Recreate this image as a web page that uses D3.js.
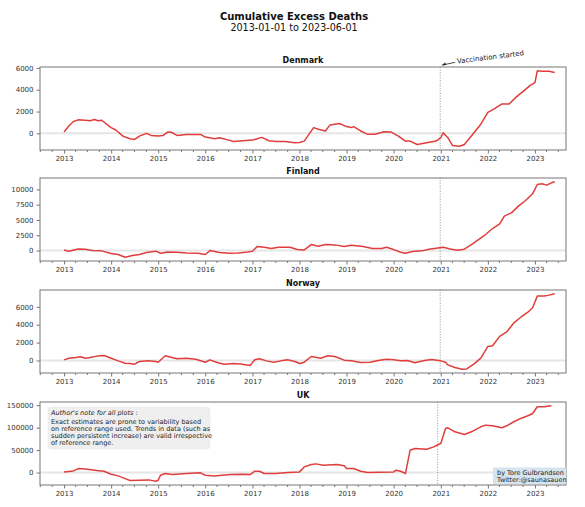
<!DOCTYPE html>
<html><head><meta charset="utf-8">
<script src="https://cdn.jsdelivr.net/npm/d3@7"></script>
<style>
body{margin:0;background:#fff;}
svg{display:block;font-family:"DejaVu Sans",sans-serif;}
</style></head>
<body><svg id="c" width="585" height="507"></svg>
<script>
// ---- data (decimal year, cumulative excess deaths) ----
const countries = ["Denmark", "Finland", "Norway", "UK"];
const yearTicks = [2013,2014,2015,2016,2017,2018,2019,2020,2021,2022,2023];

const dkT = [2013.0,2013.1,2013.2,2013.3,2013.45,2013.55,2013.65,2013.72,2013.8,2014.0,2014.1,2014.25,2014.4,2014.5,2014.6,2014.75,2014.85,2015.0,2015.1,2015.2,2015.28,2015.4,2015.6,2015.9,2016.0,2016.2,2016.3,2016.5,2016.6,2016.8,2017.0,2017.1,2017.2,2017.35,2017.5,2017.7,2017.9,2018.0,2018.1,2018.2,2018.3,2018.4,2018.55,2018.65,2018.85,2019.0,2019.1,2019.15,2019.3,2019.45,2019.6,2019.8,2019.95,2020.1,2020.25,2020.35,2020.5,2020.7,2020.9,2021.0,2021.05,2021.15,2021.25,2021.4,2021.5,2021.65,2021.85,2022.0,2022.15,2022.3,2022.45,2022.6,2022.75,2022.9,2023.0,2023.05,2023.15,2023.3,2023.42];
const dkV = [120,680,1085,1240,1210,1150,1270,1150,1200,530,310,-250,-500,-560,-250,0,-190,-250,-200,120,100,-190,-100,-100,-340,-500,-400,-620,-740,-680,-620,-500,-370,-680,-740,-740,-870,-840,-710,-90,530,370,220,775,900,620,530,620,220,-90,-90,155,120,-250,-710,-710,-1020,-870,-710,-400,60,-400,-1120,-1180,-1020,-250,840,1920,2290,2700,2700,3320,3850,4400,4650,5740,5700,5700,5580];

const fiT = [2013.0,2013.1,2013.3,2013.45,2013.6,2013.8,2014.0,2014.15,2014.3,2014.45,2014.6,2014.75,2014.95,2015.05,2015.2,2015.4,2015.6,2015.85,2016.0,2016.1,2016.3,2016.5,2016.7,2016.9,2017.0,2017.1,2017.25,2017.4,2017.55,2017.8,2017.95,2018.1,2018.25,2018.4,2018.55,2018.75,2018.95,2019.1,2019.35,2019.55,2019.75,2019.85,2020.0,2020.15,2020.25,2020.4,2020.6,2020.75,2020.9,2021.05,2021.2,2021.35,2021.5,2021.65,2021.8,2021.95,2022.1,2022.25,2022.35,2022.5,2022.65,2022.8,2022.95,2023.05,2023.15,2023.25,2023.35,2023.42];
const fiV = [100,-100,270,220,0,-50,-490,-650,-1090,-820,-650,-330,-100,-440,-220,-270,-380,-440,-650,0,-330,-440,-380,-220,-100,650,550,330,550,550,160,100,980,710,980,930,650,870,650,330,330,550,160,-270,-440,-160,-50,220,380,550,270,50,220,980,1800,2620,3600,4370,5630,6170,7260,8190,9280,10810,10920,10700,11080,11250];

const noT = [2013.0,2013.1,2013.25,2013.35,2013.45,2013.55,2013.7,2013.85,2014.0,2014.15,2014.3,2014.4,2014.5,2014.6,2014.8,2014.95,2015.0,2015.15,2015.25,2015.4,2015.6,2015.8,2016.0,2016.1,2016.25,2016.4,2016.6,2016.75,2016.95,2017.05,2017.15,2017.3,2017.45,2017.6,2017.75,2017.9,2018.0,2018.1,2018.25,2018.45,2018.6,2018.75,2018.95,2019.1,2019.3,2019.5,2019.7,2019.85,2020.0,2020.15,2020.3,2020.45,2020.65,2020.8,2021.0,2021.1,2021.15,2021.3,2021.45,2021.55,2021.7,2021.85,2022.0,2022.1,2022.25,2022.4,2022.55,2022.7,2022.85,2022.95,2023.05,2023.2,2023.3,2023.42];
const noV = [75,260,340,410,260,340,490,560,260,-40,-300,-340,-410,-110,-40,-110,-190,530,400,190,260,150,-190,75,-220,-410,-340,-380,-560,75,190,-40,-190,-40,75,-110,-340,-190,450,260,530,450,40,-40,-220,-190,40,150,75,-40,0,-260,0,110,-40,-190,-490,-790,-975,-940,-410,260,1575,1650,2700,3190,4200,4840,5400,5890,7200,7200,7310,7460];

const ukT = [2013.0,2013.2,2013.3,2013.5,2013.7,2013.85,2014.0,2014.15,2014.3,2014.4,2014.6,2014.8,2014.95,2015.0,2015.05,2015.15,2015.3,2015.6,2015.9,2016.0,2016.2,2016.35,2016.55,2016.8,2016.95,2017.05,2017.15,2017.25,2017.5,2017.75,2018.0,2018.1,2018.25,2018.35,2018.5,2018.8,2018.95,2019.0,2019.15,2019.3,2019.45,2019.7,2020.0,2020.05,2020.15,2020.25,2020.3,2020.35,2020.45,2020.7,2020.85,2020.95,2021.0,2021.1,2021.15,2021.3,2021.5,2021.65,2021.85,2021.95,2022.1,2022.3,2022.4,2022.55,2022.7,2022.85,2022.95,2023.05,2023.2,2023.3,2023.35];
const ukV = [1500,3700,8900,7400,4500,3000,-3700,-7400,-13400,-17800,-17100,-16300,-19300,-17000,-5900,-2200,-4500,-2200,-700,-5900,-7400,-5900,-4500,-3700,-4500,3000,3000,-2200,-2200,0,1500,12600,17800,19300,16300,17800,14900,8900,8900,3000,0,700,1500,5200,3000,-2200,23800,49800,53500,52000,57200,62400,64700,98100,99600,90700,84700,90700,101800,105500,104000,99600,104000,113000,120400,126300,131500,146400,146400,147900,148600];

const yTickVals = [[0,2000,4000,6000],[0,2500,5000,7500,10000],[0,2000,4000,6000],[0,50000,100000,150000]];
const vaccDates = ["2020-12-27","2020-12-27","2020-12-27","2020-12-08"];
const noteLines = ["Exact estimates are prone to variability based","on reference range used. Trends in data (such as","sudden persistent increase) are valid irrespective","of reference range."];

// ---- helpers ----
function toDate(y){ const Y=Math.floor(y); const a=new Date(Date.UTC(Y,0,1)), b=new Date(Date.UTC(Y+1,0,1)); return new Date(a.getTime()+(y-Y)*(b-a)); }
const seriesT = [dkT, fiT, noT, ukT];
const seriesV = [dkV, fiV, noV, ukV];

const svg = d3.select("#c");
const L = 40, R = 566;
const panelTops = [67, 178, 290, 402];
const panelH = 83;
const x = d3.scaleUtc().domain([toDate(2012.49), toDate(2023.66)]).range([L, R]);
const red = "#df3e3c";

svg.append("text").attr("x",294).attr("y",20).attr("text-anchor","middle")
  .attr("font-weight","bold").attr("font-size",10).attr("fill","#111").text("Cumulative Excess Deaths");
svg.append("text").attr("x",294).attr("y",31).attr("text-anchor","middle")
  .attr("font-size",9.6).attr("fill","#111").text("2013-01-01 to 2023-06-01");

countries.forEach((name,i)=>{
  const top = panelTops[i], bot = top+panelH;
  const T = seriesT[i], V = seriesV[i];
  const data = T.map((t,k)=>({d:toDate(t), v:V[k]}));
  const [mn,mx] = d3.extent(V); const pad=(mx-mn)*0.05;
  const y = d3.scaleLinear().domain([mn-pad, mx+pad]).range([bot, top]);
  const g = svg.append("g");

  // zero line
  g.append("line").attr("x1",L).attr("x2",R).attr("y1",y(0)).attr("y2",y(0))
    .attr("stroke","#e6e6e6").attr("stroke-width",2);
  // vaccination line
  const vx = x(new Date(vaccDates[i]+"T00:00:00Z"));
  g.append("line").attr("x1",vx).attr("x2",vx).attr("y1",top).attr("y2",bot)
    .attr("stroke","#888").attr("stroke-width",0.9).attr("stroke-dasharray","1,1.6");
  // series
  g.append("path").datum(data).attr("fill","none").attr("stroke",red).attr("stroke-width",1.5)
    .attr("stroke-linejoin","round")
    .attr("d", d3.line().x(d=>x(d.d)).y(d=>y(d.v)));

  // axes
  const xa = g.append("g").attr("transform",`translate(0,${bot})`)
    .call(d3.axisBottom(x).tickValues(yearTicks.map(t=>toDate(t))).tickFormat(d3.utcFormat("%Y")).tickSize(3.5).tickPadding(3));
  const minor = [];
  for(let Y=2012;Y<=2023;Y++) for(const m of [3,6,9]){ const d=new Date(Date.UTC(Y,m,1)); if(d>=x.domain()[0]&&d<=x.domain()[1]) minor.push(d); }
  g.append("g").attr("transform",`translate(0,${bot})`).selectAll("line").data(minor).join("line")
    .attr("x1",d=>x(d)).attr("x2",d=>x(d)).attr("y1",0).attr("y2",2).attr("stroke","#555").attr("stroke-width",0.8);
  const ya = g.append("g").attr("transform",`translate(${L},0)`)
    .call(d3.axisLeft(y).tickValues(yTickVals[i]).tickFormat(d3.format("d")).tickSize(3.5).tickPadding(3));
  [xa,ya].forEach(a=>{
    a.select(".domain").remove();
    a.selectAll("line").attr("stroke","#555").attr("stroke-width",0.8);
    a.selectAll("text").attr("font-size",7).attr("fill","#333").attr("font-family","DejaVu Sans");
  });
  // frame
  g.append("rect").attr("x",L).attr("y",top).attr("width",R-L).attr("height",panelH)
    .attr("fill","none").attr("stroke","#777").attr("stroke-width",1);
  // title
  g.append("text").attr("x",(L+R)/2).attr("y",top-4).attr("text-anchor","middle")
    .attr("font-weight","bold").attr("font-size",8).attr("fill","#111").text(name);

  if(i===0){
    // annotation
    const ax = vx, ay = top-1.5;
    g.append("line").attr("x1",ax+15).attr("y1",ay-3.2).attr("x2",ax+3).attr("y2",ay-0.6)
      .attr("stroke","#222").attr("stroke-width",0.8);
    g.append("path").attr("d",`M${ax+1},${ay} l4.2,-3.1 l0.6,2.6 z`).attr("fill","#222");
    g.append("text").attr("transform",`translate(${ax+17},${ay-2}) rotate(-7)`)
      .attr("font-size",7).attr("fill","#222").text("Vaccination started");
  }
  if(i===3){
    // author's note
    g.append("rect").attr("x",48).attr("y",407).attr("width",162).attr("height",42).attr("rx",3)
      .attr("fill","#efefef").attr("stroke","#e4e4e4").attr("stroke-width",0.5);
    const nt = g.append("text").attr("font-size",6.5).attr("fill","#222");
    nt.append("tspan").attr("x",51).attr("y",415).attr("font-style","italic").text("Author's note for all plots");
    nt.append("tspan").text(" :");
    noteLines.forEach((s,k)=>{
      g.append("text").attr("x",51).attr("y",423.5+k*7.3).attr("font-size",6.5).attr("fill","#222").text(s);
    });
    // credit
    g.append("rect").attr("x",493).attr("y",467.5).attr("width",73).attr("height",16.5)
      .attr("fill","#d5e4ef");
    g.append("text").attr("x",497).attr("y",474.5).attr("font-size",6.5).attr("fill","#222").text("by Tore Gulbrandsen");
    g.append("text").attr("x",497).attr("y",482).attr("font-size",6.5).attr("fill","#222").text("Twitter:@saunasauen");
  }
});
</script></body></html>
